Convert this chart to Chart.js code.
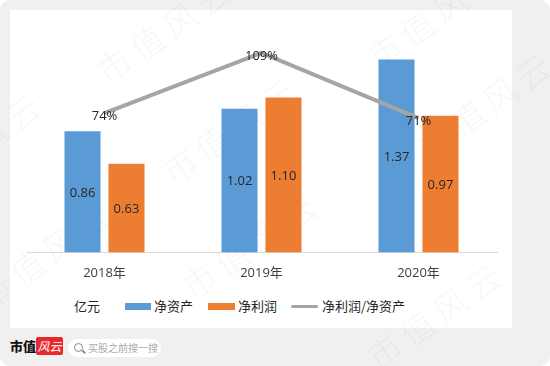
<!DOCTYPE html>
<html>
<head>
<meta charset="utf-8">
<script src="https://cdn.jsdelivr.net/npm/chart.js@4.4.1/dist/chart.umd.min.js"></script>
<style>
  html, body { margin: 0; padding: 0; background: #fff; }
  body { width: 550px; height: 366px; position: relative; overflow: hidden;
         font-family: "Noto Sans CJK SC", "Noto Sans", sans-serif; }
  #frame { position: absolute; left: 0; top: 0; width: 550px; height: 366px;
           background: #f0f0f0; border-radius: 10px; }
  #panel { position: absolute; left: 10px; top: 10px; width: 502px; height: 318px; background: #fff; }
  #wrap { position: absolute; left: 10px; top: 10px; width: 502px; height: 284px; }
  .wm { position: absolute; color: rgba(0,0,0,0.05); font-size: 34px; line-height: 40px; transform: rotate(-35deg);
        transform-origin: left center; white-space: nowrap; letter-spacing: 6px; pointer-events: none;
        font-family: "Noto Sans CJK SC", serif; font-weight: 300; }
  .leg { position: absolute; font-size: 13px; color: #262626; line-height: 16px; top: 298px; }
  .box { position: absolute; }
  #logo1 { position: absolute; left: 10px; top: 337px; font-size: 13px; font-weight: 900; color: #111; line-height: 18px; }
  #logo2 { position: absolute; left: 36px; top: 337px; width: 27px; height: 18px; background: #e8282b;
           color: #fff; font-size: 12px; font-style: italic; line-height: 18px; text-align: center; border-radius: 2px; }
  #search { position: absolute; left: 68px; top: 339px; width: 93px; height: 18px; background: #fff; border-radius: 9px; }
  #search span { position: absolute; left: 20px; top: 1px; font-size: 10px; color: #aaa; line-height: 16px; }
  #mag { position: absolute; left: 6px; top: 4px; width: 7px; height: 7px; border: 1.5px solid #888; border-radius: 50%; }
  #mag:after { content: ""; position: absolute; left: 7px; top: 7px; width: 4px; height: 1.5px; background: #888; transform: rotate(45deg); }
</style>
</head>
<body>
<div id="frame"></div>
<div id="panel"></div>
<div class="wm" style="left:100px; top:55px;">市值风云</div>
<div class="wm" style="left:370px; top:40px;">市值风云</div>
<div class="wm" style="left:-90px; top:170px;">市值风云</div>
<div class="wm" style="left:165px; top:155px;">市值风云</div>
<div class="wm" style="left:-20px; top:280px;">市值风云</div>
<div class="wm" style="left:185px; top:270px;">市值风云</div>
<div class="wm" style="left:420px; top:130px;">市值风云</div>
<div class="wm" style="left:370px; top:340px;">市值风云</div>
<div id="wrap"><canvas id="chart"></canvas></div>

<div class="leg" style="left:74px;">亿元</div>
<div class="box" style="left:125px; top:303px; width:26px; height:7px; background:#5b9bd5;"></div>
<div class="leg" style="left:154px;">净资产</div>
<div class="box" style="left:208px; top:303px; width:27px; height:7px; background:#ed7d31;"></div>
<div class="leg" style="left:238px;">净利润</div>
<div class="box" style="left:291px; top:305px; width:27px; height:3px; background:#a5a5a5; border-radius:2px;"></div>
<div class="leg" style="left:322px;">净利润/净资产</div>

<div id="logo1">市值</div>
<div id="logo2">风云</div>
<div id="search"><div id="mag"></div><span>买股之前搜一搜</span></div>

<script>
const years = ['2018年', '2019年', '2020年'];
const netAssets = [0.86, 1.02, 1.37];
const netProfit = [0.63, 1.10, 0.97];
const ratio = [0.74, 1.09, 0.71];

const valueLabels = {
  id: 'valueLabels',
  afterDatasetsDraw(chart) {
    const ctx = chart.ctx;
    ctx.save();
    ctx.fillStyle = '#262626';
    ctx.font = '13px "Open Sans", "Noto Sans", sans-serif';
    ctx.textAlign = 'center';
    ctx.textBaseline = 'middle';
    chart.data.datasets.forEach((ds, di) => {
      const meta = chart.getDatasetMeta(di);
      meta.data.forEach((el, i) => {
        if (ds.type === 'line') {
          ctx.fillText(Math.round(ds.data[i] * 100) + '%', el.x, el.y + 3);
        } else {
          ctx.fillText(ds.data[i].toFixed(2), el.x, (el.y + el.base) / 2 + 1);
        }
      });
    });
    ctx.restore();
  }
};

new Chart(document.getElementById('chart'), {
  data: {
    labels: years,
    datasets: [
      { type: 'line', label: '净利润/净资产', data: ratio, yAxisID: 'y1', order: 0,
        borderColor: '#a5a5a5', borderWidth: 4, pointRadius: 0, tension: 0 },
      { type: 'bar', label: '净资产', data: netAssets, yAxisID: 'y', order: 1,
        backgroundColor: '#5b9bd5', categoryPercentage: 0.56, barPercentage: 0.82 },
      { type: 'bar', label: '净利润', data: netProfit, yAxisID: 'y', order: 2,
        backgroundColor: '#ed7d31', categoryPercentage: 0.56, barPercentage: 0.82 },
    ],
  },
  options: {
    responsive: true,
    maintainAspectRatio: false,
    animation: false,
    layout: { padding: { left: 16, right: 15, top: 17, bottom: 8 } },
    plugins: { legend: { display: false }, tooltip: { enabled: false } },
    scales: {
      x: {
        grid: { display: false },
        border: { display: true, color: '#d9d9d9', width: 1 },
        ticks: { color: '#404040', padding: 5, font: { size: 13, family: '"Open Sans", "Noto Sans CJK SC", sans-serif' } },
      },
      y: { display: false, min: 0, max: 1.6 },
      y1: { display: false, min: -0.07, max: 1.24 },
    },
  },
  plugins: [valueLabels],
});
</script>
</body>
</html>
